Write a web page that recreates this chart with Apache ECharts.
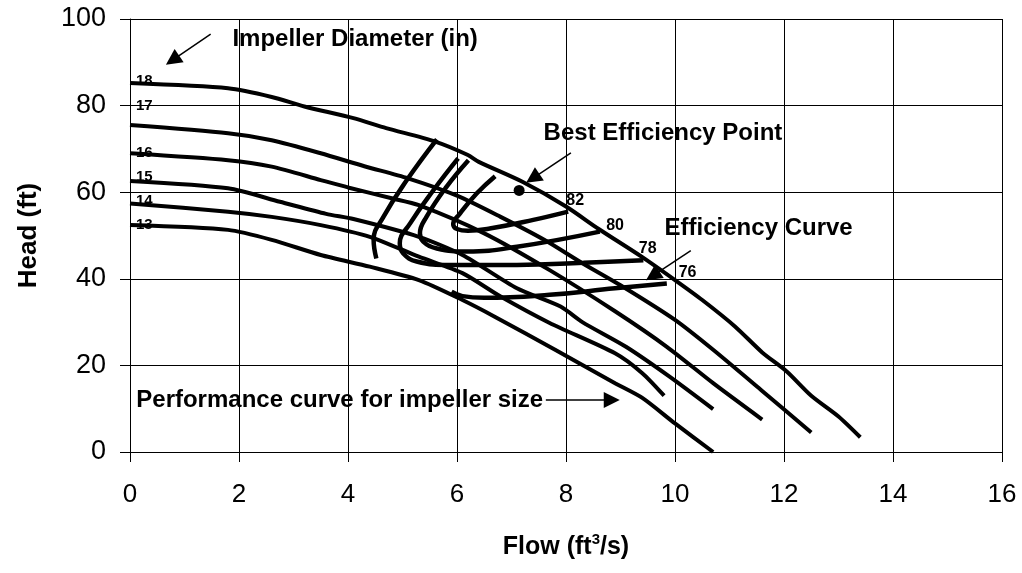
<!DOCTYPE html>
<html><head><meta charset="utf-8">
<script src="https://cdn.jsdelivr.net/npm/echarts/dist/echarts.min.js"></script>
<style>html,body{margin:0;padding:0;background:#fff}#c{width:1022px;height:573px}</style>
</head><body><div id="c"></div>
<script>
// ---- data (flow ft3/s, head ft) ----
const impellerSizes = ['18', '17', '16', '15', '14', '13'];
const curve18 = [[0,85.2],[1.8,84],[2.6,82],[3.2,79.8],[4.1,77.1],[4.7,74.8],[5.6,71.7],[6.2,68.6],[6.4,67],[7.2,62.4],[8.0,56.7],[8.6,51.5],[9.4,45],[10.0,39.7],[10.5,35.1],[11.1,29],[11.6,23],[12.05,18.6],[12.5,13],[13.0,8.2],[13.4,3.4]];
const curve17 = [[0,75.5],[1.8,73.6],[2.6,72],[3.5,69],[4.3,66],[5.1,63.2],[6.0,59.2],[6.8,54.3],[7.6,49],[8.3,43.6],[9.0,38.5],[10.0,30.5],[10.7,23.6],[11.6,14.1],[12.5,4.5]];
const curve16 = [[0,69],[1.8,67.4],[2.6,65.9],[3.5,62.8],[4.0,61.1],[4.8,58.6],[5.3,57.0],[6.5,50.5],[7.7,42],[8.9,32.5],[9.85,24.3],[10.7,15.9],[11.6,7.5]];
const curve15 = [[0,62.6],[1.8,60.9],[2.75,57.8],[3.6,55],[4.1,53.8],[5.3,49.7],[6.1,45.5],[7.1,37.8],[7.9,33.6],[8.3,30],[9.1,24.3],[9.9,17.4],[10.7,9.9]];
const curve14 = [[0,57.4],[1.8,55.5],[2.6,54.3],[3.5,52.4],[4.4,49.7],[5.3,45.1],[6.1,41.3],[6.8,35.9],[7.7,29.8],[8.9,22.8],[9.4,18.2],[9.8,13]];
const curve13 = [[0,52.4],[1.8,51.3],[2.6,49],[3.5,45.5],[4.4,42.8],[5.3,39.7],[6.1,35.1],[6.7,31.2],[7.8,23.6],[8.9,15.9],[9.4,12.5],[10.0,6.6],[10.7,0]];
const impellerCurves = [curve18, curve17, curve16, curve15, curve14, curve13];
const impellerLabelPos = [[0.1,85.8],[0.1,79.9],[0.1,69.2],[0.1,63.5],[0.1,57.9],[0.1,52.5]];

const effLevels = ['82', '80', '78', '76'];
const eff82 = [[6.70,63.7],[6.36,59.7],[6.05,55],[5.93,52.6],[6.0,51.5],[6.2,51.1],[6.6,51.6],[7.4,53.6],[8.04,55.5]];
const eff80 = [[6.21,67.4],[5.81,61.3],[5.44,54.3],[5.32,50.5],[5.38,48.6],[5.63,47.0],[6.18,46.3],[7.1,47.4],[8.62,50.9]];
const eff78 = [[6.02,67.8],[5.57,60.5],[5.14,52.8],[4.95,48.2],[5.01,45.9],[5.26,44.0],[5.87,43.2],[7.1,43.2],[8.32,43.7],[9.42,44.3]];
const eff76Arm = [[5.63,72.2],[5.08,62.8],[4.65,54.3],[4.47,49.0],[4.52,44.7]];
const eff76Line = [[5.9,37.0],[6.1,36.0],[6.5,35.6],[7.7,36.3],[8.9,37.8],[9.85,38.9]];
const effCurves = [eff82, eff80, eff78, eff76Arm, eff76Line];
const effLabelPos = [[8.17,58.0],[8.90,52.4],[9.50,47.0],[10.23,41.4]];

const bestEfficiencyPoint = [7.14, 60.4];

const annotationTexts = ['Impeller Diameter (in)', 'Best Efficiency Point', 'Efficiency Curve', 'Performance curve for impeller size'];
const annotationPos = [[1.87,95.3],[7.58,73.6],[9.80,51.7],[0.106,12.0]];
const arrowCoords = [
  [[1.48,96.5],[0.78,90.5]],
  [[8.09,69.1],[7.39,63.2]],
  [[10.29,46.5],[9.59,40.7]],
  [[7.63,12.0],[8.84,12.0]]
];

// ---- chart ----
const FONT = '"Liberation Sans", Arial, sans-serif';
const chart = echarts.init(document.getElementById('c'), null, {renderer: 'canvas'});
const series = [];
impellerCurves.forEach((c, i) => series.push({
  name: 'D' + impellerSizes[i], type: 'line', data: c, smooth: 0.25, showSymbol: false,
  lineStyle: {color: '#000', width: 4}, z: 3
}));
effCurves.forEach((c, i) => series.push({
  name: 'eff' + i, type: 'line', data: c, smooth: 0.45, showSymbol: false,
  lineStyle: {color: '#000', width: 4.5}, z: 4
}));
const labelItem = {color: 'rgba(0,0,0,0)', opacity: 1};
series.push({
  type: 'scatter', data: impellerLabelPos.map((p, i) => ({value: p, label: {formatter: impellerSizes[i]}})),
  symbolSize: 1, itemStyle: labelItem, z: 6,
  label: {show: true, position: 'right', distance: 0, color: '#000', opacity: 1, fontFamily: FONT, fontWeight: 'bold', fontSize: 15}
});
series.push({
  type: 'scatter', data: effLabelPos.map((p, i) => ({value: p, label: {formatter: effLevels[i]}})),
  symbolSize: 1, itemStyle: labelItem, z: 6,
  label: {show: true, position: 'inside', color: '#000', opacity: 1, fontFamily: FONT, fontWeight: 'bold', fontSize: 16}
});
series.push({
  type: 'scatter', data: [bestEfficiencyPoint], symbol: 'circle', symbolSize: 11,
  itemStyle: {color: '#000', opacity: 1}, z: 6
});
series.push({
  type: 'scatter', data: annotationPos.map((p, i) => ({value: p, label: {formatter: annotationTexts[i]}})),
  symbolSize: 1, itemStyle: labelItem, z: 7,
  label: {show: true, position: 'right', distance: 0, color: '#000', opacity: 1, fontFamily: FONT, fontWeight: 'bold', fontSize: 24}
});
series.push({
  type: 'lines', coordinateSystem: 'cartesian2d', z: 7,
  data: arrowCoords.map(c => ({coords: c})),
  symbol: ['none', 'triangle'], symbolSize: 16,
  lineStyle: {color: '#000', width: 1.5, opacity: 1}, itemStyle: {color: '#000'}
});

chart.setOption({
  animation: false,
  backgroundColor: '#fff',
  grid: {left: 130, right: 20, top: 19, bottom: 121, containLabel: false},
  xAxis: {
    type: 'value', min: 0, max: 16, interval: 2,
    name: '{a|Flow (ft}{s|3}{a|/s)}', nameLocation: 'middle', nameGap: 80,
    nameTextStyle: {rich: {
      a: {fontFamily: FONT, fontWeight: 'bold', fontSize: 25, color: '#000', verticalAlign: 'bottom', lineHeight: 28},
      s: {fontFamily: FONT, fontWeight: 'bold', fontSize: 15, color: '#000', verticalAlign: 'bottom', lineHeight: 15, padding: [0, 0, 13, 0]}
    }},
    axisLine: {show: true, lineStyle: {color: '#000', width: 1}},
    axisTick: {show: true, inside: false, length: 10, lineStyle: {color: '#000'}},
    axisLabel: {fontFamily: FONT, fontSize: 26, color: '#000', margin: 30},
    splitLine: {show: true, lineStyle: {color: '#000', width: 1}}
  },
  yAxis: {
    type: 'value', min: 0, max: 100, interval: 20,
    name: 'Head (ft)', nameLocation: 'middle', nameGap: 88, nameRotate: 90,
    nameTextStyle: {fontFamily: FONT, fontWeight: 'bold', fontSize: 26, color: '#000'},
    axisLine: {show: true, lineStyle: {color: '#000', width: 1}},
    axisTick: {show: true, inside: false, length: 10, lineStyle: {color: '#000'}},
    axisLabel: {fontFamily: FONT, fontSize: 27, color: '#000', margin: 24},
    splitLine: {show: true, lineStyle: {color: '#000', width: 1}}
  },
  series: series
});
</script></body></html>
